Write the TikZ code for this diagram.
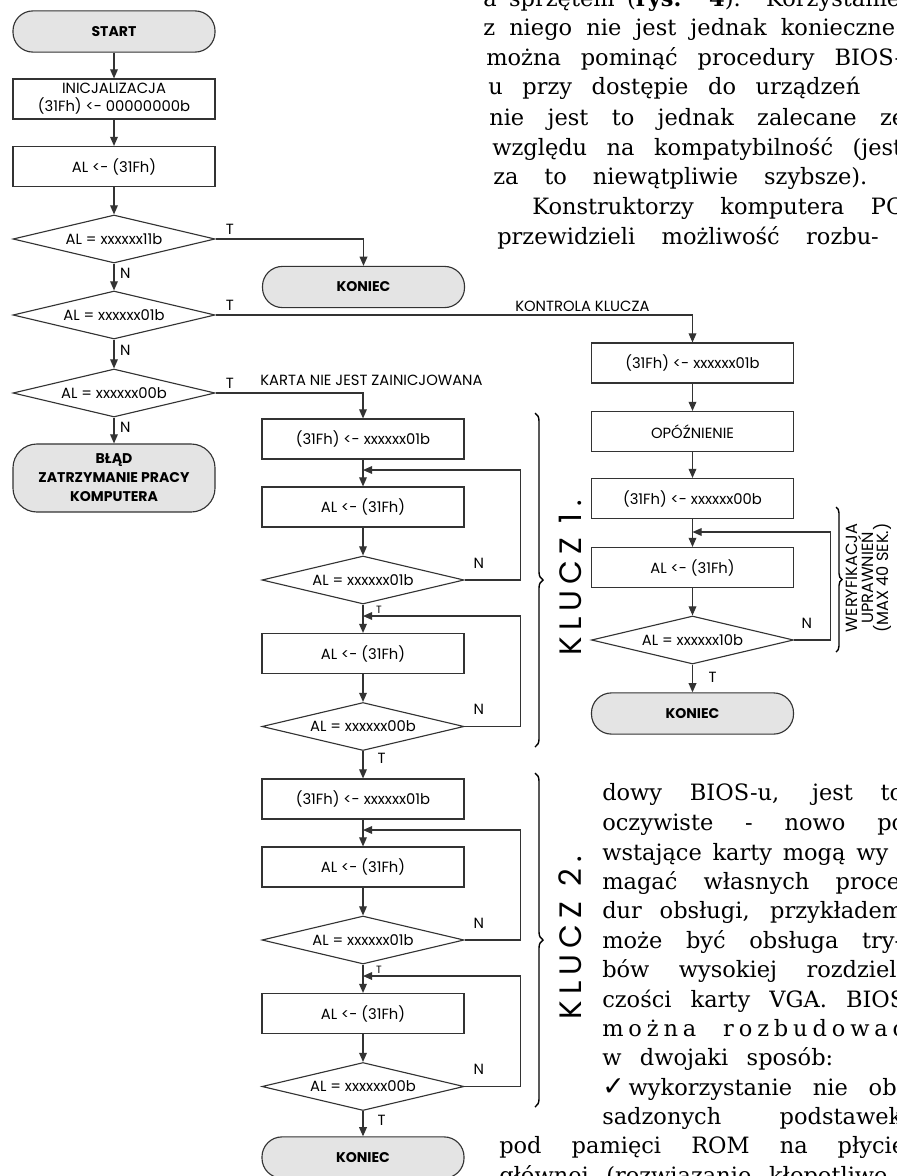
\documentclass[tikz,border=0pt]{standalone}
\usepackage{fontspec}
\usetikzlibrary{arrows.meta, positioning, shapes.geometric, decorations.pathreplacing}
\newfontfamily\chartfont{Poppins}
\newfontfamily\keyfont{Poppins}[LetterSpace=20]
\newfontfamily\bodyfont{DejaVu Serif}
\newfontfamily\tickfont{DejaVu Sans}
\definecolor{inkgray}{HTML}{333333}
\definecolor{capgray}{HTML}{E4E4E4}
\newlength\pxu
\setlength\pxu{0.025cm}

\tikzset{
    chart/.style={font=\chartfont\fontsize{10.5}{12.8}\selectfont},
    box/.style={chart, draw=inkgray, line width=0.8pt, minimum width=5.05cm, minimum height=1cm, inner sep=0pt, align=center},
    decision/.style={chart, draw=inkgray, line width=0.8pt, diamond, aspect=4, minimum width=5.05cm, minimum height=1.2cm, inner sep=0pt},
    terminal/.style={draw=inkgray, line width=0.8pt, fill=capgray, rounded corners=0.5cm, minimum width=5.05cm, minimum height=1.03cm, inner sep=0pt, align=center, font=\chartfont\bfseries\fontsize{10}{13.5}\selectfont},
    flow/.style={draw=inkgray, line width=0.8pt, -{Triangle[length=6.5pt, width=5.5pt]}},
    tag/.style={chart, inner sep=0pt},
    smalltag/.style={font=\chartfont\fontsize{7.5}{9}\selectfont, inner sep=0pt},
    keytitle/.style={font=\keyfont\fontsize{22}{26}\selectfont, inner sep=0pt, rotate=90},
    keybrace/.style={draw=black, line width=1pt, decorate, decoration={brace, amplitude=0.2cm}},
    body/.style={font=\bodyfont\fontsize{16}{19}\selectfont, anchor=base west, inner sep=0pt},
}

\begin{document}
\begin{tikzpicture}[x=0.025cm, y=-0.025cm]
    \useasboundingbox (0,0) rectangle (896,1176);
    \clip (0,0) rectangle (896,1176);

    % Start of the test
    \node[terminal] (start) at (114,31.5) {START};
    \node[box] (init) at (114,99) {INICJALIZACJA\\(31Fh) <- 00000000b};
    \node[box] (readal) at (114,166.5) {AL <- (31Fh)};
    \node[decision] (chk11) at (114,239) {AL = xxxxxx11b};
    \node[terminal] (end11) at (363.5,287) {KONIEC};
    \node[decision] (chk01) at (114,315) {AL = xxxxxx01b};
    \node[decision] (chk00) at (114,393) {AL = xxxxxx00b};
    \node[terminal, minimum height=1.7cm, rounded corners=0.6cm] (halt) at (114,478) {BŁĄD\\ZATRZYMANIE PRACY\\KOMPUTERA};

    \draw[flow] (start) -- (init);
    \draw[flow] (init) -- (readal);
    \draw[flow] (readal) -- (chk11);
    \draw[flow] (chk11) -- node[tag, pos=0.37, right=4pt] {N} (chk01);
    \draw[flow] (chk01) -- node[tag, pos=0.37, right=4pt] {N} (chk00);
    \draw[flow] (chk00) -- node[tag, pos=0.37, right=4pt] {N} (halt);
    \draw[flow] (chk11.east) -| node[tag, pos=0, anchor=south west, xshift=7pt, yshift=3pt] {T} (end11.north);

    % Branch labels
    \node[tag, anchor=south west] (kontrolanote) at (515,312) {KONTROLA KLUCZA};
    \node[tag, anchor=south west] (kartanote) at (260,386) {KARTA NIE JEST ZAINICJOWANA};

    % Both keys are read the same way
    \foreach \k/\dy in {1/0, 2/360} {
        \node[box] (set\k) at (363,439+\dy) {(31Fh) <- xxxxxx01b};
        \node[box] (reada\k) at (363,507+\dy) {AL <- (31Fh)};
        \node[decision] (chka\k) at (363,580+\dy) {AL = xxxxxx01b};
        \node[box] (readb\k) at (363,653.5+\dy) {AL <- (31Fh)};
        \node[decision] (chkb\k) at (363,726.5+\dy) {AL = xxxxxx00b};
        \coordinate (joina\k) at (363,470+\dy);
        \coordinate (joinb\k) at (363,616+\dy);

        \draw[flow] (set\k) -- (reada\k);
        \draw[flow] (reada\k) -- (chka\k);
        \draw[flow] (chka\k) -- node[smalltag, pos=0.2, right=9pt] {T} (readb\k);
        \draw[flow] (readb\k) -- (chkb\k);
        \draw[flow] (chka\k.east) -- node[tag, pos=0, anchor=south west, xshift=6pt, yshift=8pt] {N} ++(56,0) |- (joina\k);
        \draw[flow] (chkb\k.east) -- node[tag, pos=0, anchor=south west, xshift=6pt, yshift=8pt] {N} ++(56,0) |- (joinb\k);

        \draw[keybrace] (535,413+\dy) -- (535,747+\dy);
        \node[keytitle] (title\k) at (570,578+\dy) {KLUCZ \k.};
    }
    \draw[flow] (chk00.east) -| node[tag, pos=0, anchor=south west, xshift=7pt, yshift=3pt] {T} (set1.north);
    \draw[flow] (chkb1) -- node[tag, pos=0.25, right=10pt] {T} (set2);
    \node[terminal] (endall) at (363,1157.5) {KONIEC};
    \draw[flow] (chkb2) -- node[tag, pos=0.38, right=10pt] {T} (endall);

    % Key check
    \node[box] (kset01) at (692.5,363) {(31Fh) <- xxxxxx01b};
    \node[box] (kdelay) at (692.5,431.5) {OPÓŹNIENIE};
    \node[box] (kset00) at (692.5,498.5) {(31Fh) <- xxxxxx00b};
    \node[box] (kread) at (692.5,567.5) {AL <- (31Fh)};
    \node[decision] (chk10) at (692.5,640) {AL = xxxxxx10b};
    \node[terminal] (endkey) at (692.5,713.5) {KONIEC};
    \coordinate (joink) at (692.5,532);

    \draw[flow] (chk01.east) -| node[tag, pos=0, anchor=south west, xshift=7pt, yshift=3pt] {T} (kset01.north);
    \draw[flow] (kset01) -- (kdelay);
    \draw[flow] (kdelay) -- (kset00);
    \draw[flow] (kset00) -- (kread);
    \draw[flow] (kread) -- (chk10);
    \draw[flow] (chk10) -- node[tag, pos=0.45, right=11pt] {T} (endkey);
    \draw[flow] (chk10.east) -- node[tag, pos=0, anchor=south west, xshift=5pt, yshift=8pt] {N} ++(36,0) |- (joink);

    \draw[keybrace, decoration={brace, amplitude=0.15cm}] (836,507) -- (836,652);
    \node[rotate=90, align=center, inner sep=0pt, font=\chartfont\fontsize{11.5}{11.2}\selectfont] (verify) at (869,578) {WERYFIKACJA\\UPRAWNIEŃ\\(MAX 40 SEK.)};

    % Article text around the chart
    \foreach \x/\y/\w/\txt [count=\i] in {
        483/7/417/{a sprzętem (\textbf{rys. 4}). Korzystanie},
        483/36/412/{z niego nie jest jednak konieczne},
        486/66/416/{można pominąć procedury BIOS-},
        488/95/372/{u przy dostępie do urządzeń},
        489/125/416/{nie jest to jednak zalecane ze},
        492/155/410/{względu na kompatybilność (jest},
        493/184/374/{za to niewątpliwie szybsze).},
        532/214/371/{Konstruktorzy komputera PC},
        497/244/408/{przewidzieli możliwość rozbu-}
    } {
        \node[body] (upper\i) at (\x,\y) {\makebox[\w\pxu][s]{\txt}};
    }
    \foreach \x/\y/\w/\txt [count=\i] in {
        602/800/301/{dowy BIOS-u, jest to},
        602/830/303/{oczywiste - nowo po},
        602/860/286/{wstające karty mogą wy},
        602/889/298/{magać własnych proce},
        602/918/301/{dur obsługi, przykładem},
        602/948/300/{może być obsługa try-},
        602/977/302/{bów wysokiej rozdziel-},
        602/1007/303/{czości karty VGA. BIOS},
        602/1036/303/{m o ż n a\hspace{22\pxu} r o z b u d o w a ć},
        602/1065/231/{w dwojaki sposób:},
        602/1095/302/{{\tickfont\fontsize{19}{19}\selectfont ✓}\hspace{4\pxu}wykorzystanie nie ob-},
        602/1124/300/{sadzonych podstawek},
        499/1153/406/{pod pamięci ROM na płycie},
        499/1183/406/{głównej (rozwiązanie kłopotliwe}
    } {
        \node[body] (lower\i) at (\x,\y) {\makebox[\w\pxu][s]{\txt}};
    }
\end{tikzpicture}
\end{document}
